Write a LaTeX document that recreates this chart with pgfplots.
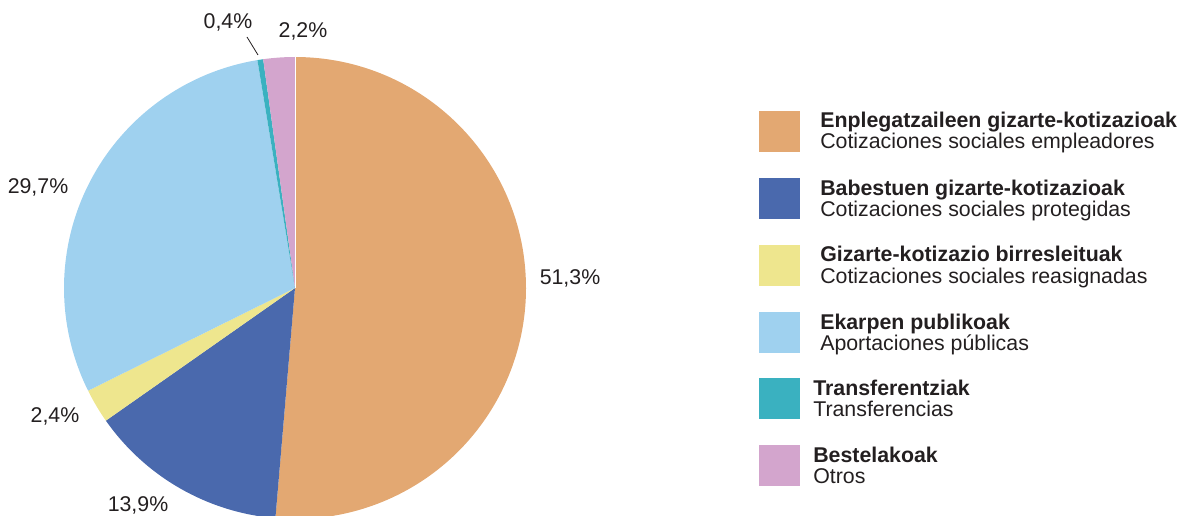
\documentclass[border=0pt]{standalone}
\usepackage{pgfplots}
\pgfplotsset{compat=1.18}
\usepackage{fontspec}
\setmainfont{Liberation Sans}
\definecolor{cA}{HTML}{E3A872}
\definecolor{cB}{HTML}{4A69AD}
\definecolor{cC}{HTML}{EEE68E}
\definecolor{cD}{HTML}{9FD1EF}
\definecolor{cE}{HTML}{3AB1C0}
\definecolor{cF}{HTML}{D3A5CD}
\definecolor{txt}{HTML}{231F20}
\begin{document}
\begin{tikzpicture}
\useasboundingbox (0,0) rectangle (883.5pt,386.25pt);
% shares (%)
\def\vA{51.3}\def\vB{13.9}\def\vC{2.4}\def\vD{29.7}\def\vE{0.4}\def\vF{2.2}
\pgfmathsetmacro\tot{\vA+\vB+\vC+\vD+\vE+\vF}
\pgfmathsetmacro\aA{90}
\pgfmathsetmacro\aB{\aA-\vA/\tot*360}
\pgfmathsetmacro\aC{\aB-\vB/\tot*360}
\pgfmathsetmacro\aD{\aC-\vC/\tot*360}
\pgfmathsetmacro\aE{\aD-\vD/\tot*360}
\pgfmathsetmacro\aF{\aE-\vE/\tot*360}
\pgfmathsetmacro\aG{\aF-\vF/\tot*360}
\def\R{173.25pt}
\begin{axis}[
  x=0.75pt, y=0.75pt, xmin=0, xmax=1178, ymin=0, ymax=515,
  scale only axis, hide axis, anchor=south west, at={(0,0)},
  clip=true,
]
\fill[cA] (axis cs:295,227) -- ++(\aA:\R) arc[start angle=\aA, end angle=\aB, radius=\R] -- cycle;
\fill[cB] (axis cs:295,227) -- ++(\aB:\R) arc[start angle=\aB, end angle=\aC, radius=\R] -- cycle;
\fill[cC] (axis cs:295,227) -- ++(\aC:\R) arc[start angle=\aC, end angle=\aD, radius=\R] -- cycle;
\fill[cD] (axis cs:295,227) -- ++(\aD:\R) arc[start angle=\aD, end angle=\aE, radius=\R] -- cycle;
\fill[cE] (axis cs:295,227) -- ++(\aE:\R) arc[start angle=\aE, end angle=\aF, radius=\R] -- cycle;
\fill[cF] (axis cs:295,227) -- ++(\aF:\R) arc[start angle=\aF, end angle=\aG, radius=\R] -- cycle;
\draw[white, line width=0.5pt] (axis cs:295,227) -- ++(90:\R);
% value labels
\begin{scope}[every node/.style={font=\fontsize{16}{19}\selectfont, text=txt, inner sep=0pt}]
\node at (axis cs:570,237) {51,3\%};
\node at (axis cs:138,10) {13,9\%};
\node at (axis cs:55,99) {2,4\%};
\node at (axis cs:38,328) {29,7\%};
\node at (axis cs:228,493) {0,4\%};
\node at (axis cs:303,484) {2,2\%};
\end{scope}
\draw[txt, line width=0.6pt] (axis cs:247,478) -- (axis cs:258,460);
% legend
\begin{scope}[every node/.style={anchor=base west, text=txt, inner sep=0pt, font=\fontsize{16}{19}\selectfont}]
\fill[cA] (axis cs:759,404) rectangle (axis cs:800,363);
\node at (axis cs:820,387) {\bfseries Enplegatzaileen gizarte-kotizazioak};
\node at (axis cs:820,366) {Cotizaciones sociales empleadores};
\fill[cB] (axis cs:759,337) rectangle (axis cs:800,296);
\node at (axis cs:820,320) {\bfseries Babestuen gizarte-kotizazioak};
\node at (axis cs:820,299) {Cotizaciones sociales protegidas};
\fill[cC] (axis cs:759,270) rectangle (axis cs:800,229);
\node at (axis cs:820,253) {\bfseries Gizarte-kotizazio birresleituak};
\node at (axis cs:820,232) {Cotizaciones sociales reasignadas};
\fill[cD] (axis cs:759,203) rectangle (axis cs:800,162);
\node at (axis cs:820,186) {\bfseries Ekarpen publikoak};
\node at (axis cs:820,165) {Aportaciones públicas};
\fill[cE] (axis cs:759,137) rectangle (axis cs:800,96);
\node at (axis cs:813,120) {\bfseries Transferentziak};
\node at (axis cs:813,99) {Transferencias};
\fill[cF] (axis cs:759,70) rectangle (axis cs:800,29);
\node at (axis cs:813,53) {\bfseries Bestelakoak};
\node at (axis cs:813,32) {Otros};
\end{scope}
\end{axis}
\end{tikzpicture}
\end{document}
